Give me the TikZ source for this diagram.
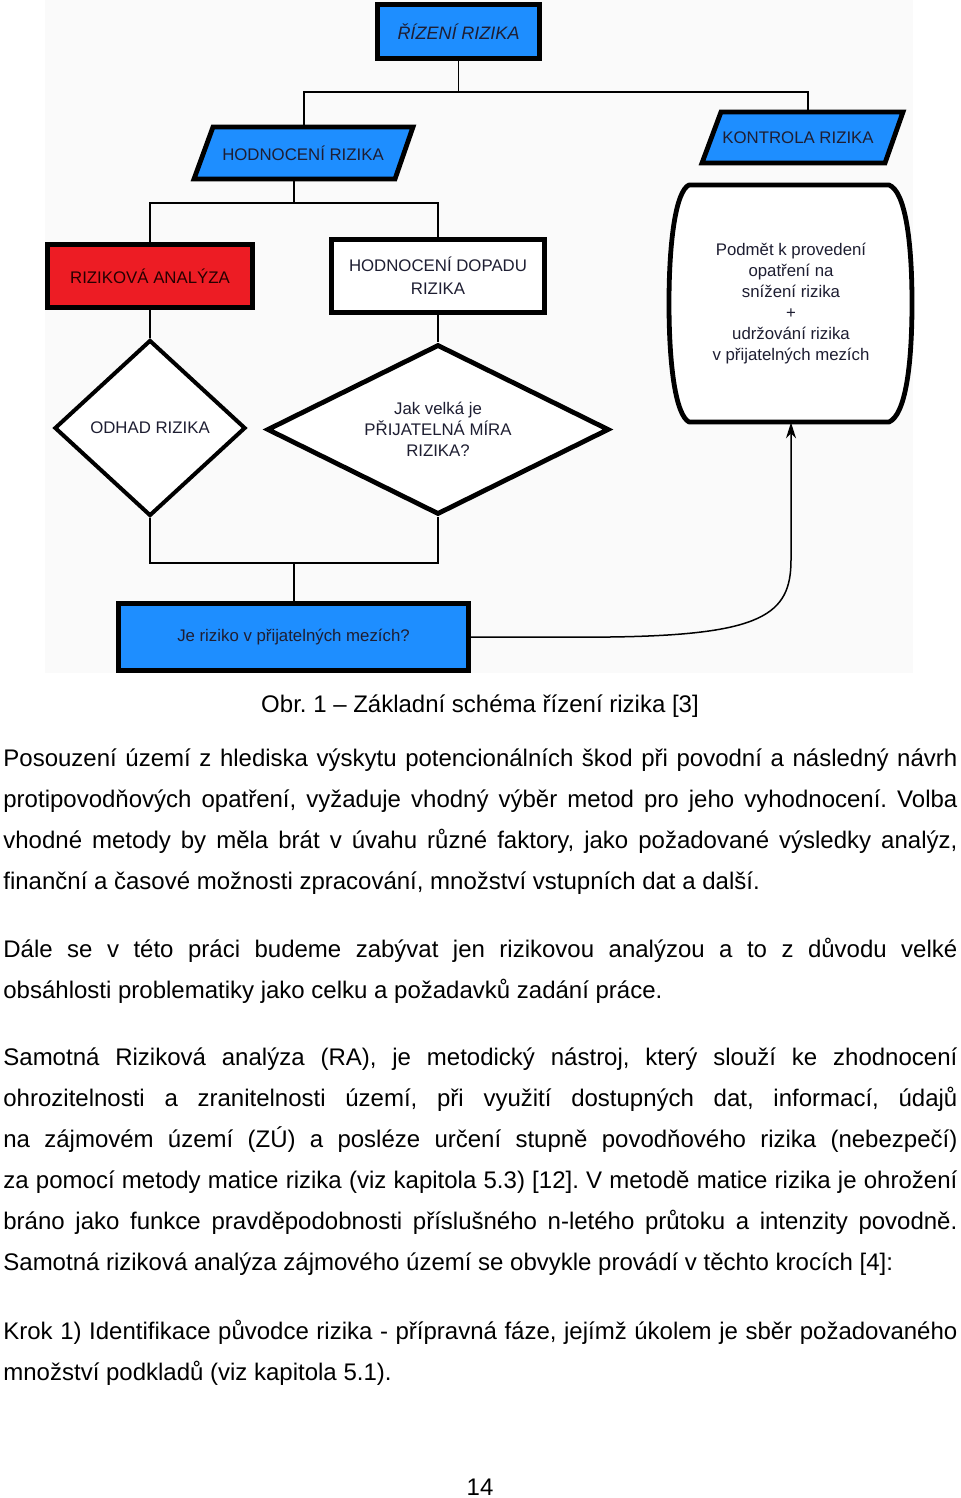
\documentclass[tikz,border=0pt]{standalone}
\usepackage{fontspec}
\setmainfont{Liberation Sans}
\usetikzlibrary{shapes.geometric,arrows.meta}
\definecolor{dblue}{RGB}{30,142,255}
\definecolor{dred}{RGB}{237,28,36}
\definecolor{dtext}{RGB}{30,30,50}
\definecolor{bggray}{RGB}{250,250,250}
\newcommand\diagfnt{\fontsize{8.4}{10.5}\selectfont}
\newcommand\bodyfnt{\fontsize{12}{14}\selectfont\frenchspacing}
\newcommand\jline[1]{\makebox[477pt][s]{#1}}
\tikzset{
  shapebox/.style={draw=black, line width=2.4pt, inner sep=0pt, text=dtext, font=\diagfnt, align=center},
  ghost/.style={inner sep=0pt, text=dtext, font=\diagfnt, align=center},
  outline/.style={draw=black, line width=2.4pt, line join=miter},
  conn/.style={draw=black, line width=0.75pt},
  bodyline/.style={anchor=base west, inner sep=0pt, font=\bodyfnt, text=black},
  centerline/.style={anchor=base, inner sep=0pt, font=\bodyfnt, text=black},
}
\begin{document}
\frenchspacing
\begin{tikzpicture}[x=0.5pt,y=-0.5pt]
\useasboundingbox (0,0) rectangle (960,1498);
\fill[bggray] (45,0) rectangle (913,673);

% --- shapes ---
\node[shapebox, fill=dblue, minimum width=81pt, minimum height=27pt, font=\fontsize{9}{11}\selectfont\itshape] (riz) at (458.5,31.5) {ŘÍZENÍ RIZIKA};

\fill[dblue] (213,127) -- (413,127) -- (395,179) -- (194,179) -- cycle;
\draw[outline] (213,127) -- (413,127) -- (395,179) -- (194,179) -- cycle;
\node[ghost, minimum width=90pt, minimum height=26pt] (hod) at (303,153) {HODNOCENÍ RIZIKA};

\fill[dblue] (721,112) -- (903,112) -- (885,163) -- (702,163) -- cycle;
\draw[outline] (721,112) -- (903,112) -- (885,163) -- (702,163) -- cycle;
\node[ghost, minimum width=88pt, minimum height=25.5pt] (kon) at (798,137.5) {KONTROLA RIZIKA};

\node[shapebox, fill=dred, text=black!85!red, minimum width=102.5pt, minimum height=31.5pt] (ra) at (150,276) {RIZIKOVÁ ANALÝZA};
\node[shapebox, fill=white, minimum width=106.5pt, minimum height=36.5pt] (dop) at (438,276) {HODNOCENÍ DOPADU\\[1pt]RIZIKA};

\node[shapebox, diamond, fill=white, line width=2pt, minimum width=95.5pt, minimum height=88pt, aspect=1.08] (odh) at (150,428) {ODHAD RIZIKA};
\node[shapebox, diamond, fill=white, minimum width=171pt, minimum height=85pt, aspect=2] (mira) at (438,429.5) {Jak velká je\\PŘIJATELNÁ MÍRA\\RIZIKA?};

\node[shapebox, fill=dblue, minimum width=175pt, minimum height=33.5pt] (je) at (293.5,637) {Je riziko v přijatelných mezích?};

\draw[outline, fill=white, line join=round] (689,185) -- (889,185) .. controls (905,191) and (912,240) .. (912,303) .. controls (912,368) and (905,415) .. (889,422) -- (689,422) .. controls (676,415) and (669,368) .. (669,303) .. controls (669,240) and (676,191) .. (689,185) -- cycle;
\node[ghost, minimum width=110pt, minimum height=118.5pt, font=\fontsize{8.4}{10.5}\selectfont] (barrel) at (791,303.5) {Podmět k provedení\\opatření na\\snížení rizika\\+\\udržování rizika\\v přijatelných mezích};

% --- connectors ---
\coordinate (b1) at (458.5,92);
\coordinate (k1) at (808,92);
\draw[conn] (riz.south) -- (b1);
\draw[conn] (hod.north -| 304,0) |- (k1) -- (k1 |- kon.north);

\coordinate (b2) at (294,203);
\draw[conn] (hod.south -| b2) -- (b2);
\draw[conn] (ra.north) |- (b2) -| (dop.north);

\draw[conn] (ra.south) -- (odh.north);
\draw[conn] (dop.south) -- (mira.north);

\coordinate (b3) at (294,563);
\draw[conn] (odh.south) |- (b3) -| (mira.south);
\draw[conn] (b3) -- (je.north -| b3);

\draw[conn, -{Stealth[length=8pt,width=5pt,inset=2.5pt]}] (je.east) -- (610,637) .. controls (762,635) and (791,615) .. (791,560) -- (barrel.south);

% --- text below ---
\node[centerline] (cap) at (480,712) {Obr. 1 – Základní schéma řízení rizika [3]};

\node[bodyline] (l1) at (3,766) {\jline{Posouzení území z hlediska výskytu potencionálních škod při povodní a následný návrh}};
\node[bodyline] (l2) at (3,807) {\jline{protipovodňových opatření, vyžaduje vhodný výběr metod pro jeho vyhodnocení. Volba}};
\node[bodyline] (l3) at (3,848) {\jline{vhodné metody by měla brát v úvahu různé faktory, jako požadované výsledky analýz,}};
\node[bodyline] (l4) at (3,889) {finanční a časové možnosti zpracování, množství vstupních dat a další.};

\node[bodyline] (l5) at (3,957) {\jline{Dále se v této práci budeme zabývat jen rizikovou analýzou a to z důvodu velké}};
\node[bodyline] (l6) at (3,998) {obsáhlosti problematiky jako celku a požadavků zadání práce.};

\node[bodyline] (l7) at (3,1065) {\jline{Samotná Riziková analýza (RA), je metodický nástroj, který slouží ke zhodnocení}};
\node[bodyline] (l8) at (3,1106) {\jline{ohrozitelnosti a zranitelnosti území, při využití dostupných dat, informací, údajů}};
\node[bodyline] (l9) at (3,1147) {\jline{na zájmovém území (ZÚ) a posléze určení stupně povodňového rizika (nebezpečí)}};
\node[bodyline] (l10) at (3,1188) {\jline{za pomocí metody matice rizika (viz kapitola 5.3) [12]. V metodě matice rizika je ohrožení}};
\node[bodyline] (l11) at (3,1229) {\jline{bráno jako funkce pravděpodobnosti příslušného n-letého průtoku a intenzity povodně.}};
\node[bodyline] (l12) at (3,1270) {Samotná riziková analýza zájmového území se obvykle provádí v těchto krocích [4]:};

\node[bodyline] (l13) at (3,1339) {\jline{Krok 1) Identifikace původce rizika - přípravná fáze, jejímž úkolem je sběr požadovaného}};
\node[bodyline] (l14) at (3,1380) {množství podkladů (viz kapitola 5.1).};

\node[centerline] (pg) at (480,1495) {14};
\end{tikzpicture}
\end{document}
